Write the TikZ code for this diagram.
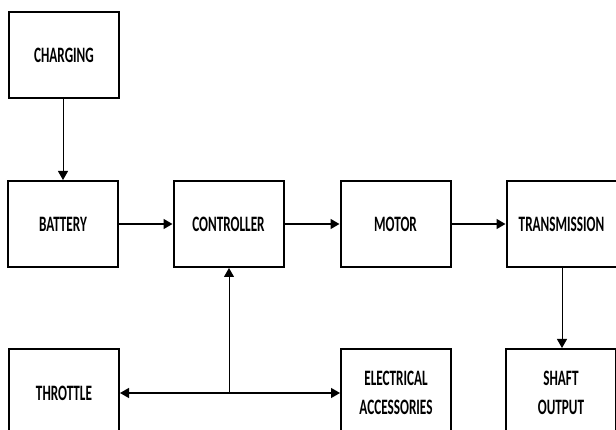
\documentclass[tikz,border=0pt]{standalone}
\usepackage{fontspec}
\setmainfont{Carlito}
\usetikzlibrary{arrows.meta}
\newcommand{\lbl}[1]{\scalebox{0.6}[1]{#1}}
\begin{document}
\begin{tikzpicture}[x=1pt,y=-1pt,
  blk/.style={draw=black,line width=2pt,fill=white,minimum width=110pt,minimum height=86pt,
    inner sep=0pt,align=center,font=\fontsize{22}{29}\selectfont\bfseries},
  tallblk/.style={blk,minimum height=88pt},
  conn/.style={line width=1.6pt,-{Triangle[length=9pt,width=10pt]}},
  thinconn/.style={line width=1pt,-{Triangle[length=9pt,width=10pt]}}]
\useasboundingbox (0,0) rectangle (616,430);
\clip (0,0) rectangle (616,430);
\fill[white] (0,0) rectangle (616,430);
\node[blk] (chg) at (64,55.5) {\lbl{CHARGING}};
\node[blk] (bat) at (63,224) {\lbl{BATTERY}};
\node[blk] (ctl) at (228.5,224) {\lbl{CONTROLLER}};
\node[blk] (mot) at (395.5,224) {\lbl{MOTOR}};
\node[blk] (trn) at (561.5,224) {\lbl{TRANSMISSION}};
\node[tallblk] (thr) at (64,393) {\lbl{THROTTLE}};
\node[tallblk] (ele) at (396,393) {\lbl{ELECTRICAL}\\\lbl{ACCESSORIES}};
\node[tallblk] (sft) at (561,393) {\lbl{SHAFT}\\\lbl{OUTPUT}};
\coordinate (j) at (229,393);
\draw[thinconn] (chg.south -| 63,0) -- (bat.north -| 63,0);
\draw[conn] (bat.east) -- (ctl.west);
\draw[conn] (ctl.east) -- (mot.west);
\draw[conn] (mot.east) -- (trn.west);
\draw[thinconn] (trn.south -| 562,0) -- (sft.north -| 562,0);
\draw[thinconn] (j) -- (ctl.south -| j);
\draw[line width=1.3pt,{Triangle[length=9pt,width=10pt]}-{Triangle[length=9pt,width=10pt]}] (thr.east) -- (ele.west);
\end{tikzpicture}
\end{document}
